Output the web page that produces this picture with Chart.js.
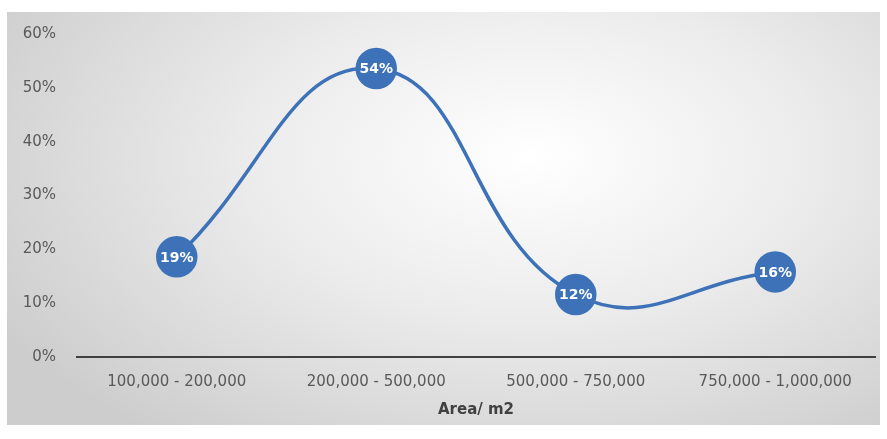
<!DOCTYPE html>
<html lang="en">
<head>
<meta charset="UTF-8" />
<title>Area distribution</title>
<style>
  body {
    margin: 0;
    background: #fff;
  }
  #chartBox {
    position: absolute;
    left: 7px;
    top: 12px;
    width: 873px;
    height: 413px;
    background: radial-gradient(ellipse 70% 85% at 60% 35%, #ffffff 0%, #ececec 45%, #cdcdcd 100%);
  }
</style>
</head>
<body>
<div id="chartBox">
  <canvas id="areaChart"></canvas>
</div>

<script src="https://cdn.jsdelivr.net/npm/chart.js"></script>
<script>
  // Categories and values
  const categories = ['100,000 - 200,000', '200,000 - 500,000', '500,000 - 750,000', '750,000 - 1,000,000'];
  const shares = [18.6, 53.6, 11.6, 15.8];
  const yTicks = [0, 10, 20, 30, 40, 50, 60];

  const blue = '#3d72b9';
  const fontFamily = '"DejaVu Sans", sans-serif';

  // Draw the percentage inside each point
  const pointLabels = {
    id: 'pointLabels',
    afterDatasetsDraw(chart) {
      const c = chart.ctx;
      const meta = chart.getDatasetMeta(0);
      c.save();
      c.fillStyle = '#ffffff';
      c.font = 'bold 14px ' + fontFamily;
      c.textAlign = 'center';
      c.textBaseline = 'middle';
      meta.data.forEach((pt, i) => {
        c.fillText(Math.round(shares[i]) + '%', pt.x, pt.y + 1);
      });
      c.restore();
    }
  };

  new Chart(document.getElementById('areaChart'), {
    type: 'line',
    data: {
      labels: categories,
      datasets: [{
        data: shares,
        borderColor: blue,
        borderWidth: 3.5,
        backgroundColor: blue,
        pointBackgroundColor: blue,
        pointBorderColor: blue,
        pointRadius: 19,
        pointHoverRadius: 19,
        tension: 0.45,
        fill: false
      }]
    },
    options: {
      responsive: true,
      maintainAspectRatio: false,
      animation: false,
      layout: { autoPadding: false, padding: { top: 22, right: 5, bottom: 0, left: 0 } },
      plugins: {
        legend: { display: false },
        tooltip: { enabled: false }
      },
      scales: {
        x: {
          offset: true,
          afterFit(scale) { scale.height = 68; },
          grid: { display: false, drawTicks: false },
          border: { color: '#404040', width: 2 },
          ticks: {
            color: '#595959',
            font: { family: fontFamily, size: 15 },
            padding: 16,
            maxRotation: 0
          },
          title: {
            display: true,
            text: 'Area/ m2',
            color: '#404040',
            font: { family: fontFamily, size: 15, weight: 'bold' },
            padding: 6
          }
        },
        y: {
          min: 0,
          max: 60,
          afterFit(scale) {
            scale.width = 70;
            scale.paddingTop = 0;
            scale.paddingBottom = 0;
          },
          afterBuildTicks(scale) { scale.ticks = yTicks.map(v => ({ value: v })); },
          grid: { display: false, drawTicks: false },
          border: { display: false },
          ticks: {
            color: '#595959',
            font: { family: fontFamily, size: 15 },
            padding: 21,
            callback: v => v + '%'
          }
        }
      }
    },
    plugins: [pointLabels]
  });
</script>
</body>
</html>
